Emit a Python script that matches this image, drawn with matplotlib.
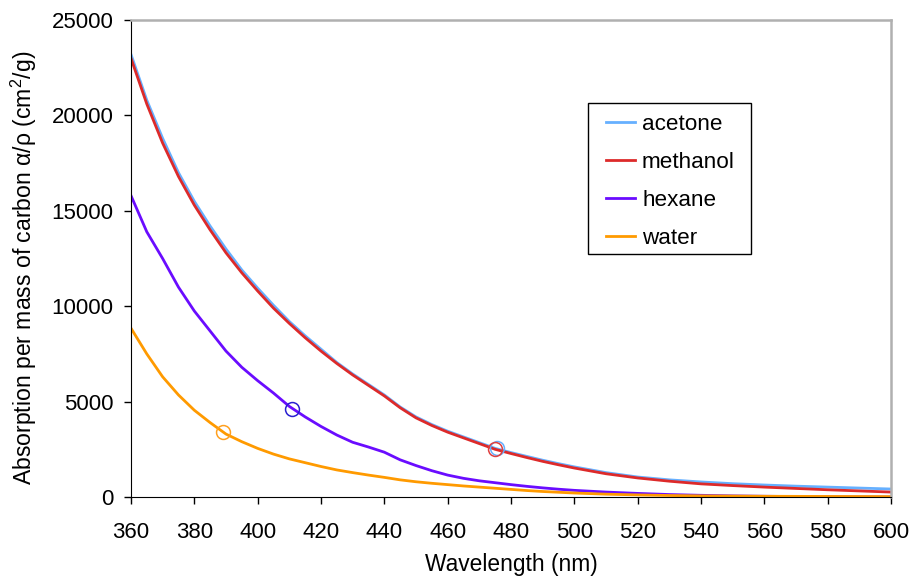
import numpy as np
import matplotlib
matplotlib.use('Agg')
import matplotlib.pyplot as plt
from matplotlib.patches import Rectangle

plt.rcParams['font.family'] = ['Liberation Sans', 'DejaVu Sans']
plt.rcParams['mathtext.fontset'] = 'custom'
plt.rcParams['mathtext.rm'] = 'Liberation Sans'

# ── Données ──────────────────────────────────────────────────────────
wl_main = [360, 365, 370, 375, 380, 385, 390, 395, 400, 405, 410, 415, 420,
           425, 430, 435, 440, 445, 450, 455, 460, 465, 470, 475, 480, 485,
           490, 495, 500, 510, 520, 530, 540, 550, 560, 570, 580, 590, 600]
acetone = [23200, 20800, 18800, 17000, 15500, 14200, 13000, 11900, 10950,
           10050, 9200, 8450, 7750, 7050, 6450, 5900, 5350, 4720, 4200, 3800,
           3450, 3150, 2850, 2550, 2330, 2130, 1930, 1750, 1580, 1280, 1050,
           900, 790, 700, 630, 570, 520, 470, 420]
methanol = [23000, 20600, 18550, 16800, 15300, 14000, 12800, 11750, 10800,
            9900, 9100, 8350, 7650, 7000, 6400, 5850, 5300, 4680, 4150, 3750,
            3400, 3100, 2800, 2500, 2280, 2070, 1870, 1690, 1520, 1220, 1000,
            830, 690, 600, 520, 450, 380, 320, 260]
hexane = [15800, 13900, 12500, 11000, 9750, 8700, 7650, 6800, 6100, 5450,
          4750, 4200, 3700, 3250, 2870, 2620, 2350, 1950, 1650, 1380, 1150,
          980, 850, 750, 650, 560, 480, 410, 350, 260, 190, 130, 90, 60, 40,
          25, 15, 5, 0]
water = [8850, 7500, 6300, 5350, 4550, 3900, 3300, 2900, 2550, 2250, 2000,
         1800, 1600, 1420, 1280, 1150, 1030, 900, 800, 720, 650, 580, 520,
         460, 400, 340, 290, 250, 210, 150, 110, 80, 60, 50, 40, 35, 30, 25, 20]

# points entourés (cercles ouverts)
mark_wl = {'acetone': 475.5, 'methanol': 475, 'hexane': 411, 'water': 389}
mark_val = {'acetone': 2560, 'methanol': 2500, 'hexane': 4620, 'water': 3420}

COLORS = {
    'acetone':  '#66b0ff',
    'methanol': '#dd2a2a',
    'hexane':   '#6a0cff',
    'water':    '#ff9a00',
}
MARK_COLORS = {
    'acetone':  '#66b0ff',
    'methanol': '#e04040',
    'hexane':   '#2a20d0',
    'water':    '#ffa020',
}
series = {'acetone': acetone, 'methanol': methanol,
          'hexane': hexane, 'water': water}

fig = plt.figure(figsize=(9.12, 5.77), dpi=100, facecolor='white')
ax = fig.add_axes([0.1436, 0.1386, 0.977 - 0.1436, 0.9653 - 0.1386])

for name, vals in series.items():
    ax.plot(wl_main, vals, color=COLORS[name], lw=2.0, label=name)

for name in series:
    ax.plot([mark_wl[name]], [mark_val[name]], 'o', mfc='none',
            mec=MARK_COLORS[name], ms=10, mew=1.1)

ax.set_xlim(360, 600)
ax.set_ylim(0, 25000)
ax.set_xticks(np.arange(360, 601, 20))
ax.set_yticks(np.arange(0, 25001, 5000))
ax.tick_params(direction='out', length=5, width=1, labelsize=16, colors='black')
ax.tick_params(axis='y', pad=7.5)
ax.tick_params(axis='x', pad=13)

ax.set_xlabel('Wavelength (nm)', fontsize=16.4, labelpad=7)
ax.set_ylabel('Absorption per mass of carbon \u03b1/\u03c1 (cm$^{2}$/g)',
              fontsize=16.6)
ax.yaxis.set_label_coords(-0.1215, 0.48)

ax.spines['left'].set_color('black')
ax.spines['bottom'].set_color('black')
for s in ['top', 'right']:
    ax.spines[s].set_color('#b0b0b0')
    ax.spines[s].set_linewidth(1.8)

# cadre de légende (style Excel, marges larges)
ax.add_patch(Rectangle((0.6013, 0.5094), 0.8158 - 0.6013, 0.826 - 0.5094,
                       transform=ax.transAxes, fill=True, facecolor='white',
                       edgecolor='black', lw=1.0, zorder=4))
leg = ax.legend(loc='upper left', bbox_to_anchor=(0.625, 0.803),
                fontsize=16.2, frameon=False, handlelength=1.3,
                handletextpad=0.3, labelspacing=0.75, borderpad=0,
                borderaxespad=0)
leg.set_zorder(5)
for line in leg.get_lines():
    line.set_linewidth(2.0)

fig.savefig('out.png', dpi=100, facecolor='white')
